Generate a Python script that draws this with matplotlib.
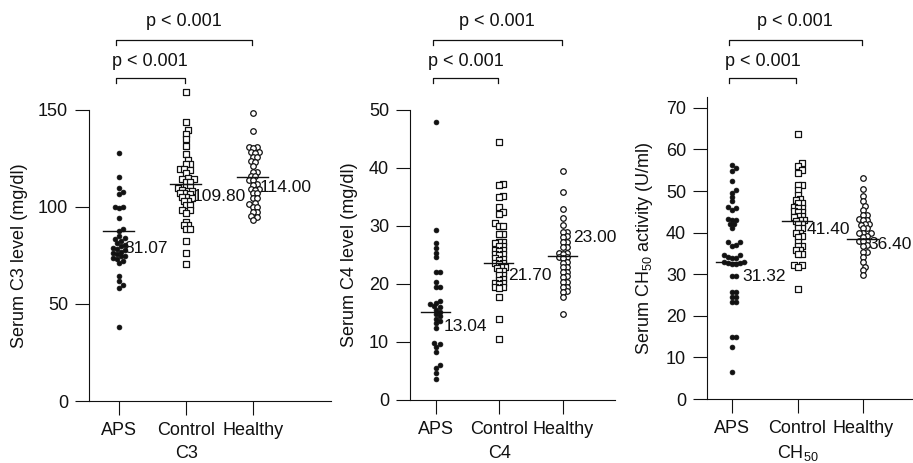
import numpy as np
import matplotlib
matplotlib.use('Agg')
import matplotlib.pyplot as plt
from matplotlib.transforms import blended_transform_factory

plt.rcParams['font.family'] = 'Liberation Sans'
plt.rcParams['mathtext.fontset'] = 'custom'
plt.rcParams['mathtext.rm'] = 'Liberation Sans'
plt.rcParams['mathtext.it'] = 'Liberation Sans:italic'

# data
groups = ['APS', 'Control', 'Healthy']

c3_aps = [128, 115.5, 110, 107.5, 106.5, 100, 100, 99.5, 94.5, 88.5, 87.5, 85, 84, 83.5, 82.5, 81.5,
          80.5, 80, 79, 78.5, 78, 77, 76.5, 76, 75, 74.5, 73.5, 73, 72, 71, 64.5, 62, 60, 58.5, 38]
c3_control = [159.5, 144, 139.5, 137.5, 135, 131.5, 127.5, 124, 122, 122, 119.5, 119.5, 119, 117.5,
              115, 114.5, 114.5, 113, 113, 110.5, 110.5, 110, 109, 108.5, 108.5, 107, 107, 106.5,
              105, 105, 104.5, 103, 103, 101, 101, 98.5, 98.5, 97, 92.5, 90.5, 90.5, 88.5, 88.5,
              82.5, 76.5, 70.5]
c3_healthy = [148.5, 139, 131, 131, 130.5, 128.5, 128.5, 128, 126, 126, 123.5, 123, 121, 118, 118,
              116, 116, 114, 114, 112, 111.5, 109.5, 109.5, 109, 107, 107, 104.5, 104.5, 102, 101.5,
              100, 100, 97.5, 97.5, 95.5, 95, 93.5]

c4_aps = [48, 29.3, 27, 26.2, 25.3, 24.6, 22, 22, 20.4, 19.5, 19.5, 17, 16.8, 16.5, 16.2, 16, 15.6,
          15.2, 14.8, 14.5, 14, 13.6, 13.3, 12.4, 9.8, 9.6, 9.2, 8.2, 6, 5.5, 4.6, 3.7]
c4_control = [44.5, 37.2, 37, 35.2, 35, 33.2, 32.5, 32.1, 30.5, 30, 30, 28.7, 28.6, 27.3, 27.2, 27,
              26.6, 26.5, 25.9, 25.8, 25.7, 25.2, 25.1, 25, 24.4, 24.3, 24.2, 23.7, 23.6, 23.5, 23,
              22.9, 22.8, 22.3, 22.2, 21.6, 21.5, 20.8, 20.7, 20.2, 20.1, 20, 19.5, 19.4, 19.3,
              17.8, 13.9, 10.5]
c4_healthy = [39.5, 35.8, 33, 31.3, 30.2, 29, 28.9, 28.2, 28.1, 27.3, 27.2, 26.4, 26.3, 25.4, 25.3,
              25.2, 24.7, 24.6, 24.5, 23.8, 23.7, 23, 22.9, 22.1, 22, 21.3, 21.2, 20.4, 20.3, 19.5,
              19.4, 18.8, 18.7, 17.8, 14.9]

ch50_aps = [56.3, 55.5, 54.7, 52.4, 50.3, 49.5, 48.5, 47.5, 46.1, 46, 45.5, 43.2, 43.1, 43, 42.1, 42,
            41.1, 37.8, 37.7, 37, 36.9, 34.6, 34.5, 34.1, 34, 33.9, 33, 32.9, 32.8, 32.7, 32.5, 32.4,
            29.6, 29.5, 25.8, 25.7, 24.6, 24.5, 23.4, 23.3, 15, 14.9, 12.6, 6.6]
ch50_control = [63.7, 56.7, 55.9, 55.1, 54.3, 51.5, 51.4, 50.3, 49.1, 48, 47.9, 47.1, 47, 46.1, 46,
                45.9, 45.1, 45, 44.9, 44, 43.9, 43.8, 43.1, 43, 42.9, 42.1, 42, 41.1, 41, 40, 39.9,
                39.1, 39, 37.8, 36.8, 36.7, 35.8, 35.7, 34.9, 34.8, 32.2, 32.1, 31.8, 26.4]
ch50_healthy = [53.2, 50.5, 48.7, 47.6, 46.4, 45.5, 44.3, 44.2, 43.2, 43.1, 43, 42.1, 42, 41.9, 41.1,
                41, 40, 39.9, 39.8, 39.1, 39, 38.1, 38, 37.9, 37, 36.9, 35.4, 35.3, 34.2, 33, 31.8,
                30.9, 29.8]

c3_lines = [87.6, 111.9, 115.5]
c4_lines = [15.2, 23.6, 24.8]
ch50_lines = [33.0, 42.8, 38.5]
c3_labels = ['81.07', '109.80', '114.00']
c4_labels = ['13.04', '21.70', '23.00']
ch50_labels = ['31.32', '41.40', '36.40']

p_text = 'p < 0.001'

W, H = 913, 463


def swarm_offsets(ypx, d):
    # simple beeswarm in pixel space
    step = d / 2.0
    order = np.argsort(ypx)
    xs = np.zeros(len(ypx))
    placed = []
    for k in order:
        y = ypx[k]
        for j in range(200):
            off = ((j + 1) // 2) * step * (1 if j % 2 else -1)
            ok = True
            for (px, py) in placed:
                if (px - off) ** 2 + (py - y) ** 2 < d * d:
                    ok = False
                    break
            if ok:
                xs[k] = off
                placed.append((off, y))
                break
    return xs


fig = plt.figure(figsize=(W / 100, H / 100), dpi=100)

panels = [
    dict(rect=(89, 331, 110, 401), xlim=(-0.448, 3.16), ylim=(0, 150), yticks=[0, 50, 100, 150],
         data=[c3_aps, c3_control, c3_healthy], lines=c3_lines, labels=c3_labels,
         ylabel='Serum C3 level (mg/dl)', ylab_x=20, xlabel='C3',
         lab_dx=[5, 7, 6], lab_dy=[-17, -13, -11]),
    dict(rect=(410, 615, 110, 400), xlim=(-0.41, 2.82), ylim=(0, 50), yticks=[0, 10, 20, 30, 40, 50],
         data=[c4_aps, c4_control, c4_healthy], lines=c4_lines, labels=c4_labels,
         ylabel='Serum C4 level (mg/dl)', ylab_x=349, xlabel='C4',
         lab_dx=[8, 9, 10], lab_dy=[-15, -12, 19]),
    dict(rect=(707, 913, 97, 399), xlim=(-0.38, 2.76), ylim=(0, 72.6),
         yticks=[0, 10, 20, 30, 40, 50, 60, 70],
         data=[ch50_aps, ch50_control, ch50_healthy], lines=ch50_lines, labels=ch50_labels,
         ylabel='Serum CH$_{50}$ activity (U/ml)', ylab_x=644, xlabel='CH$_{50}$',
         lab_dx=[10, 9, 5], lab_dy=[-15, -9, -6]),
]

ink = '#111111'
fs = 13
fs_val = 12.5

for p in panels:
    l, r, t, b = p['rect']
    ax = fig.add_axes([l / W, (H - b) / H, (r - l) / W, (b - t) / H])
    ax.set_xlim(*p['xlim'])
    ax.set_ylim(*p['ylim'])
    for s in ['top', 'right']:
        ax.spines[s].set_visible(False)
    for s in ['left', 'bottom']:
        ax.spines[s].set_linewidth(0.8)
        ax.spines[s].set_color(ink)
    ax.set_yticks(p['yticks'])
    ax.set_xticks(range(3))
    ax.set_xticklabels(groups)
    ax.tick_params(direction='out', length=10, width=0.8, colors=ink, labelsize=fs, pad=5)
    ax.patch.set_visible(False)

    ypp = (b - t) / (p['ylim'][1] - p['ylim'][0])
    xpp = (r - l) / (p['xlim'][1] - p['xlim'][0])

    styles = [dict(marker='o', s=12, facecolors=ink, edgecolors=ink, linewidths=0.5),
              dict(marker='s', s=13, facecolors='white', edgecolors=ink, linewidths=0.9),
              dict(marker='o', s=16, facecolors='white', edgecolors=ink, linewidths=0.9)]
    for i, vals in enumerate(p['data']):
        vals = np.asarray(vals, dtype=float)
        offs = swarm_offsets(vals * ypp, 4.0) / xpp
        ax.scatter(i + offs, vals, clip_on=False, zorder=3, **styles[i])
        ax.plot([i - 0.24, i + 0.22], [p['lines'][i]] * 2, color=ink, lw=1.0, zorder=4, clip_on=False)
        ax.annotate(p['labels'][i], xy=(i, p['lines'][i]),
                    xytext=(p['lab_dx'][i], p['lab_dy'][i]), textcoords='offset pixels',
                    ha='left', va='center', fontsize=fs_val, color=ink, zorder=5)

    # y label and x label
    fig.text(p['ylab_x'] / W, (H - (t + b) / 2) / H, p['ylabel'], rotation=90,
             ha='center', va='center', fontsize=fs, color=ink)
    bt = blended_transform_factory(ax.transData, fig.transFigure)
    ax.text(1, (H - 453) / H, p['xlabel'], transform=bt, ha='center', va='center',
            fontsize=fs, color=ink)

    # significance brackets
    for x2, yb, yt in [(1.98, 40, 22), (0.98, 78, 62)]:
        y0 = (H - yb) / H
        y1 = (H - yb - 5) / H
        ax.plot([-0.05, -0.05, x2, x2], [y1, y0, y0, y1], transform=bt, color=ink,
                lw=0.9, clip_on=False)
        ax.text((x2 - 0.05) / 2, (H - yt) / H, p_text, transform=bt, ha='center',
                va='center', fontsize=fs, color=ink)

fig.savefig('out.png', dpi=100, facecolor='white')
